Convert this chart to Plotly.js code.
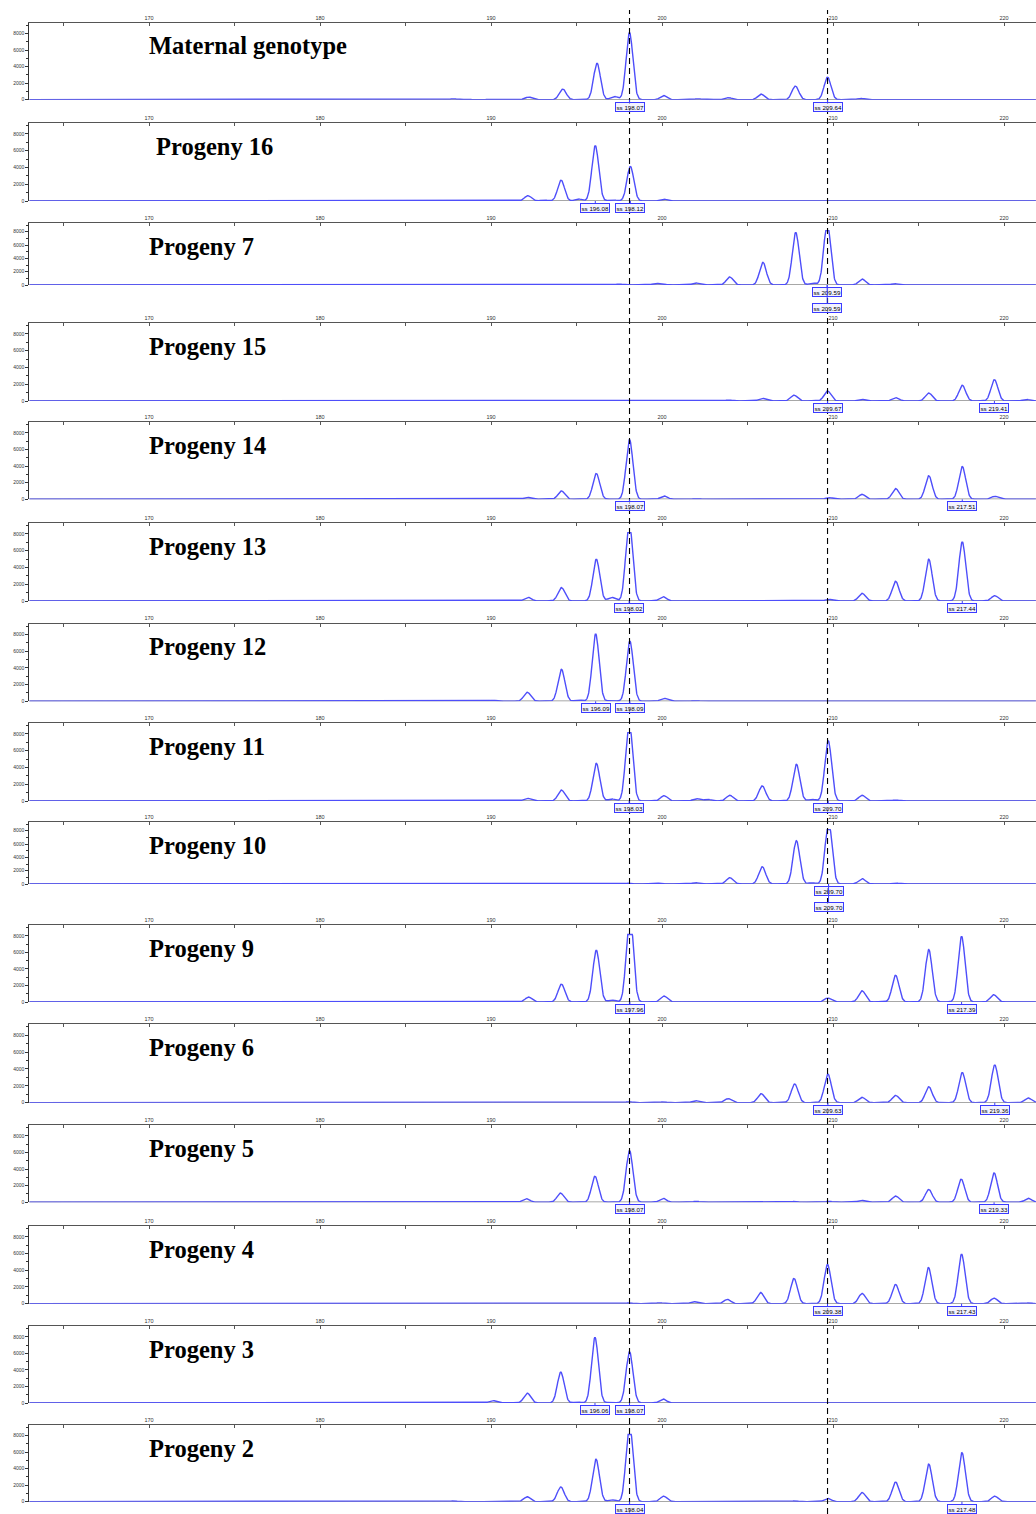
<!DOCTYPE html>
<html><head><meta charset="utf-8">
<script src="https://cdn.plot.ly/plotly-3.0.1.min.js"></script>
<style>body{margin:0;background:#fff} #chart{width:1036px;height:1514px}</style>
</head><body><div id="chart"></div>
<script>
// ---------------- DATA ----------------
const panelNames = ["Maternal genotype","Progeny 16","Progeny 7","Progeny 15","Progeny 14","Progeny 13","Progeny 12","Progeny 11","Progeny 10","Progeny 9","Progeny 6","Progeny 5","Progeny 4","Progeny 3","Progeny 2"];
const xTickLabels = [170,180,190,200,210,220];
const yTickLabels = [0,2000,4000,6000,8000];
const markerSizes = [198.1, 209.68]; // dashed reference lines (bp)

// peaks: [size (bp), height (RFU)]
const peaksMaternal = [[187.8,120],[188.6,60],[190.0,50],[191.0,60],[192.2,320],[194.2,1280],[196.2,4400],[197.2,400],[198.1,8100],[200.1,500],[202.1,120],[202.8,80],[203.9,240],[205.8,680],[207.8,1640],[209.68,2720],[211.6,160]];
const peaksP16 = [[178.8,60],[179.7,50],[180.6,60],[184.6,40],[186.6,50],[187.5,40],[190.06,60],[191.05,50],[192.16,640],[193.1,120],[194.1,2480],[195.1,240],[196.1,6600],[197.1,160],[198.15,4120],[200.08,240]];
const peaksP7 = [[192.4,50],[197.5,150],[199.6,200],[200.0,150],[201.97,300],[203.96,1200],[205.9,3400],[207.82,7900],[208.8,300],[209.66,9300],[211.7,900],[213.6,200]];
const peaksP15 = [[202.0,80],[203.9,120],[205.87,320],[207.72,700],[209.68,1200],[211.65,200],[213.66,400],[215.6,950],[217.56,1870],[219.44,2540],[221.3,200]];
const peaksP14 = [[192.12,240],[194.12,1000],[196.16,3100],[198.1,7200],[200.12,400],[202.06,80],[207.86,80],[209.76,200],[211.7,600],[213.66,1300],[215.6,2830],[217.56,3940],[219.46,360]];
const peaksP13 = [[192.16,440],[194.12,1600],[196.16,4980],[197.06,440],[198.08,9500],[200.06,520],[209.76,200],[211.7,920],[213.66,2350],[215.6,4980],[217.56,7050],[219.46,640]];
const peaksP12 = [[178.2,50],[179.3,40],[180.5,50],[184.0,40],[185.0,50],[186.2,60],[187.3,40],[189.1,40],[190.1,120],[191.06,60],[192.12,1080],[194.12,3820],[195.1,160],[196.12,8050],[197.06,120],[198.12,7200],[200.12,360],[202.0,80]];
const peaksP11 = [[179.5,50],[180.6,60],[186.5,50],[188.7,60],[190.1,80],[191.0,60],[192.12,320],[194.12,1300],[196.16,4500],[197.06,240],[198.08,9500],[200.12,640],[202.0,280],[202.66,200],[203.96,680],[205.86,1800],[207.86,4380],[208.76,200],[209.72,7200],[211.7,680],[213.66,120]];
const peaksP10 = [[198.06,120],[199.86,120],[201.96,200],[203.96,950],[205.86,2600],[207.86,6500],[208.76,200],[209.74,9500],[211.7,800],[213.66,150]];
const peaksP9 = [[173.8,60],[185.0,40],[186.5,50],[188.0,40],[190.1,80],[192.2,600],[194.12,2150],[196.16,6250],[197.06,240],[198.12,11000],[200.12,720],[202.5,60],[204.5,60],[206.5,80],[207.9,80],[209.7,480],[211.7,1350],[213.66,3230],[215.6,6330],[217.52,7930],[219.4,880]];
const peaksP6 = [[198.06,120],[200.06,100],[201.96,240],[203.86,480],[205.8,1070],[207.76,2220],[209.7,3400],[211.7,640],[213.66,870],[215.6,1900],[217.56,3570],[219.46,4480],[221.42,560]];
const peaksP5 = [[186.5,60],[188.0,60],[190.0,80],[192.06,440],[194.06,1110],[196.08,3130],[198.1,6230],[200.06,480],[202.0,120],[207.76,100],[209.76,120],[211.66,240],[213.66,750],[215.6,1550],[217.5,2780],[219.42,3530],[221.42,480]];
const peaksP4 = [[198.06,100],[199.86,120],[201.86,240],[203.82,520],[205.76,1350],[207.72,3020],[209.68,4680],[211.7,1230],[213.66,2300],[215.58,4330],[217.52,5920],[219.42,670],[221.46,100]];
const peaksP3 = [[184.0,50],[186.0,60],[187.5,60],[189.0,80],[190.1,300],[191.0,80],[192.12,1190],[194.08,3730],[195.06,120],[196.08,7940],[197.06,120],[198.1,6190],[200.06,480],[202.06,80]];
const peaksP2 = [[173.2,60],[186.5,80],[187.8,100],[189.0,60],[190.1,80],[192.12,600],[194.08,1790],[196.14,5160],[197.06,240],[198.1,9500],[200.1,675],[207.76,100],[209.7,400],[211.7,1110],[213.66,2380],[215.6,4560],[217.54,5950],[219.46,670]];

// allele calls: [size on axis, label text]
const callsMaternal = [[198.1,"ss 198.07"],[209.68,"ss 209.64"]];
const callsP16 = [[196.1,"ss 196.08"],[198.15,"ss 198.12"]];
const callsP7 = [[209.66,"ss 209.59"],[209.66,"ss 209.59"]];
const callsP15 = [[209.68,"ss 209.67"],[219.44,"ss 219.41"]];
const callsP14 = [[198.1,"ss 198.07"],[217.56,"ss 217.51"]];
const callsP13 = [[198.08,"ss 198.02"],[217.56,"ss 217.44"]];
const callsP12 = [[196.12,"ss 196.09"],[198.12,"ss 198.09"]];
const callsP11 = [[198.08,"ss 198.03"],[209.72,"ss 209.70"]];
const callsP10 = [[209.74,"ss 209.70"],[209.74,"ss 209.70"]];
const callsP9 = [[198.12,"ss 197.96"],[217.52,"ss 217.39"]];
const callsP6 = [[209.7,"ss 209.63"],[219.46,"ss 219.36"]];
const callsP5 = [[198.1,"ss 198.07"],[219.42,"ss 219.33"]];
const callsP4 = [[209.68,"ss 209.38"],[217.52,"ss 217.43"]];
const callsP3 = [[196.08,"ss 196.06"],[198.1,"ss 198.07"]];
const callsP2 = [[198.1,"ss 198.04"],[217.54,"ss 217.48"]];

const detectorCap = 8150; // signal saturation seen as flat tops

// ---------------- LAYOUT ----------------
const W = 1036, H = 1514;
const allPeaks = [peaksMaternal,peaksP16,peaksP7,peaksP15,peaksP14,peaksP13,peaksP12,peaksP11,peaksP10,peaksP9,peaksP6,peaksP5,peaksP4,peaksP3,peaksP2];
const allCalls = [callsMaternal,callsP16,callsP7,callsP15,callsP14,callsP13,callsP12,callsP11,callsP10,callsP9,callsP6,callsP5,callsP4,callsP3,callsP2];
const panelTop  = [22.7,123,223,323,422,523,623.5,723,822,925,1024.3,1125,1226,1326,1425];
const panelBase = [99.7,201,285,401,499.3,601,701.3,801,884,1002,1102.7,1202.3,1303.7,1403,1501.7];
const titleX = [147,154,147,147,147,147,147,147,147,147,147,147,147,147,147];
const xLeftPx = 29.3, xMin = 163.0, pxPerBp = 17.1;
const xMax = xMin + (W - xLeftPx)/pxPerBp;
const yMax = 9300, sigma = 0.2;

const xs = [];
for (let v = xMin; v <= xMax + 1e-9; v += 0.02) xs.push(+v.toFixed(3));

function traceY(peaks){
  return xs.map(x => {
    let s = 0;
    for (const [p,h] of peaks){ const d = x - p; if (Math.abs(d) < 1.6) s += h*Math.exp(-d*d/(2*sigma*sigma)); }
    return Math.min(s, detectorCap);
  });
}

const data = [], annotations = [], shapes = [];
const layout = {width:W, height:H, margin:{l:0,r:0,t:0,b:0}, paper_bgcolor:'#fff', plot_bgcolor:'#fff', showlegend:false, font:{family:'Liberation Sans, Arial, sans-serif'}};

allPeaks.forEach((peaks, i) => {
  const sfx = i === 0 ? '' : String(i+1);
  const xa = 'x'+sfx, ya = 'y'+sfx;
  data.push({type:'scatter', mode:'lines', x:xs, y:traceY(peaks), xaxis:xa, yaxis:ya,
    line:{color:'rgb(78,78,250)', width:1.4}, hoverinfo:'skip'});
  layout['xaxis'+sfx] = {domain:[xLeftPx/W, 1], range:[xMin, xMax], anchor:ya, side:'top',
    showline:true, linecolor:'#555', linewidth:1, ticks:'inside', ticklen:3, tickcolor:'#555',
    tickmode:'array', tickvals:xTickLabels, ticktext:xTickLabels.map(String),
    tickfont:{size:5.5, color:'#333'}, minor:{tickmode:'array', tickvals:[165,175,185,195,205,215], ticks:'inside', ticklen:3, tickcolor:'#555'},
    showgrid:false, zeroline:false, fixedrange:true};
  layout['yaxis'+sfx] = {domain:[1 - panelBase[i]/H, 1 - panelTop[i]/H], range:[0, yMax], anchor:xa,
    showline:true, linecolor:'#333', linewidth:1, ticks:'outside', ticklen:3, tickcolor:'#333',
    tickmode:'array', tickvals:yTickLabels, ticktext:yTickLabels.map(String),
    tickfont:{size:5, color:'#333'}, minor:{tickmode:'array', tickvals:[1000,3000,5000,7000,9000], ticks:'outside', ticklen:2, tickcolor:'#333'},
    showgrid:false, zeroline:false, fixedrange:true};
  // baseline
  shapes.push({type:'line', xref:xa+' domain', x0:0, x1:1, yref:ya, y0:0, y1:0, line:{color:'#8a8a8a', width:1.5}, layer:'below'});
  // title
  annotations.push({xref:'paper', yref:'paper', x:titleX[i]/W, y:1 - (panelTop[i]+23)/H, xanchor:'left', yanchor:'middle',
    text:'<b>'+panelNames[i]+'</b>', showarrow:false, font:{family:'Liberation Serif, Times New Roman, serif', size:24.5, color:'#000'}});
  // allele call boxes
  const seen = {};
  allCalls[i].forEach(([pos, txt]) => {
    const k = pos.toFixed(2); const lvl = seen[k] || 0; seen[k] = lvl + 1;
    annotations.push({xref:xa, yref:ya, x:pos, y:0, text:txt, showarrow:true, arrowhead:0, arrowwidth:1, arrowcolor:'#3b3bff',
      ax:0, ay:7 + lvl*16, font:{size:6.2, color:'#000', family:'Liberation Sans, Arial, sans-serif'},
      bordercolor:'#3b3bff', borderwidth:1, borderpad:0.5, bgcolor:'rgba(236,236,255,0.7)'});
  });
});

// dashed reference lines across all panels
markerSizes.forEach(m => shapes.push({type:'line', xref:'x', x0:m, x1:m, yref:'paper', y0:0, y1:1 - 10/H,
  line:{color:'#000', width:1.1, dash:'6px,4px'}, layer:'above'}));

layout.shapes = shapes;
layout.annotations = annotations;
Plotly.newPlot('chart', data, layout, {staticPlot:true, displayModeBar:false});
</script>
</body></html>
